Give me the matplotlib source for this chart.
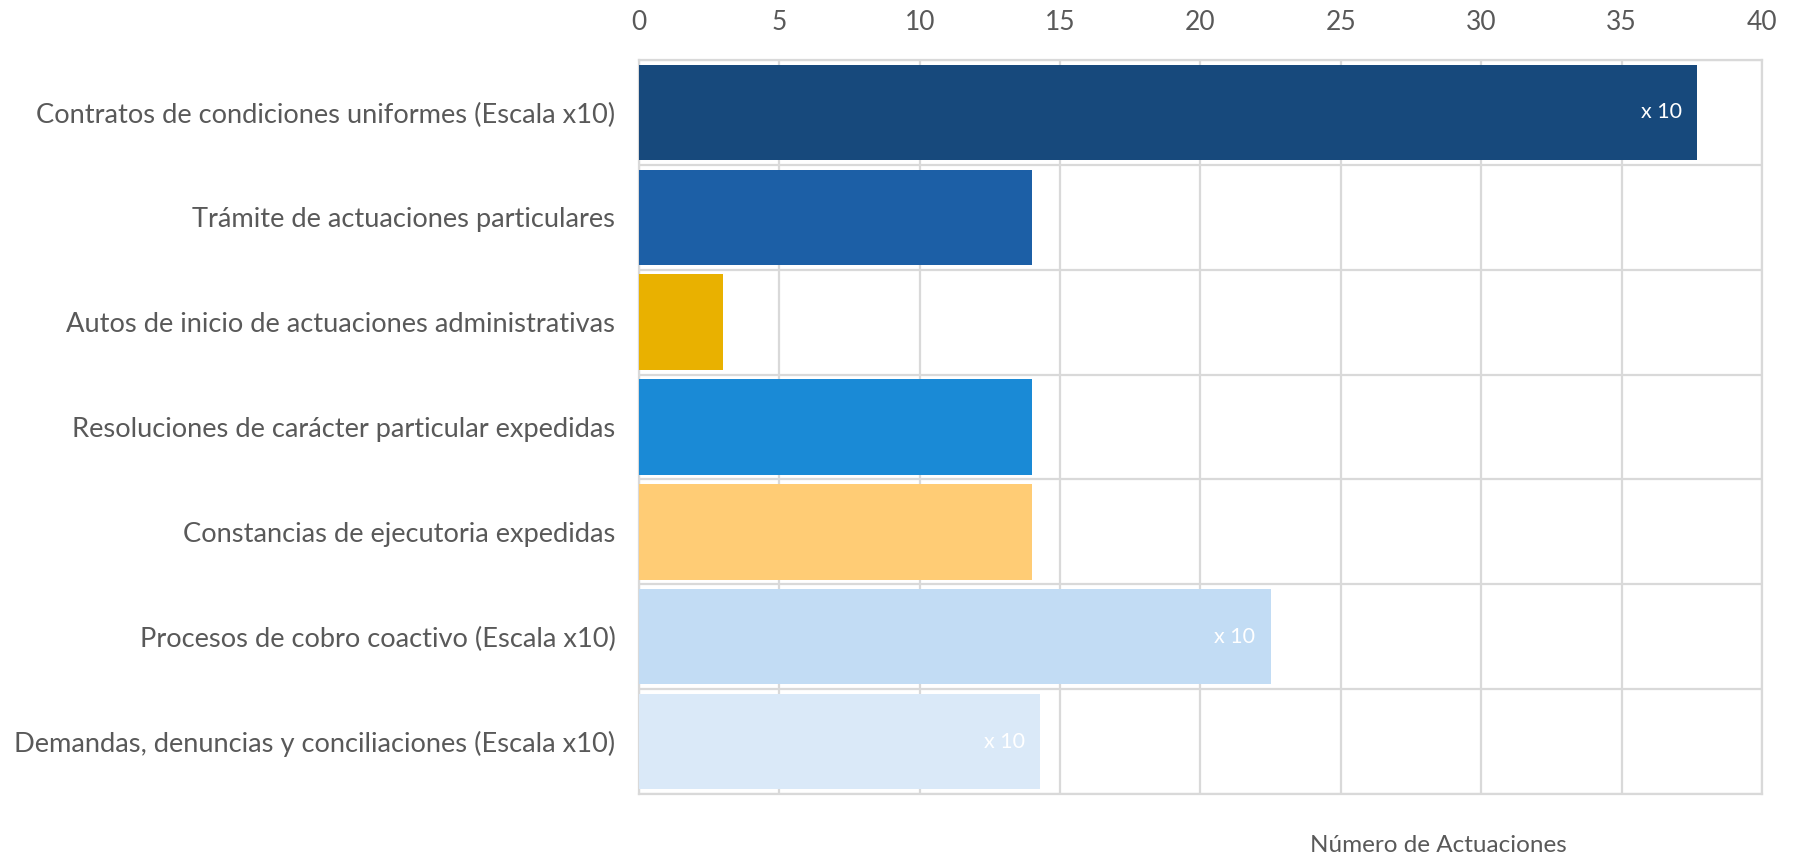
import matplotlib.pyplot as plt
import numpy as np

# Datos
categorias = ['Contratos de condiciones uniformes (Escala x10)',
              'Trámite de actuaciones particulares',
              'Autos de inicio de actuaciones administrativas',
              'Resoluciones de carácter particular expedidas',
              'Constancias de ejecutoria expedidas',
              'Procesos de cobro coactivo (Escala x10)',
              'Demandas, denuncias y conciliaciones (Escala x10)']
valores = [37.7, 14, 3, 14, 14, 22.5, 14.3]
etiquetas = ['x 10', '', '', '', '', 'x 10', 'x 10']
colores = ['#17497c', '#1c5fa6', '#e9b100', '#1a8ad6', '#ffcc75', '#c2dcf4', '#dae9f8']
xticks = [0, 5, 10, 15, 20, 25, 30, 35, 40]

plt.rcParams['font.family'] = ['Lato', 'DejaVu Sans']

fig = plt.figure(figsize=(17.96, 8.58), dpi=100)
ax = fig.add_axes([0.3558, 0.0746, 0.6252, 0.8554])

y = np.arange(len(categorias))
ax.barh(y, valores, height=0.91, color=colores, zorder=3)

for yi, v, lab in zip(y, valores, etiquetas):
    if lab:
        ax.text(v - 0.55, yi, lab, ha='right', va='center', color='white', fontsize=15.5, zorder=4)

ax.set_xlim(0, 40)
ax.set_ylim(len(categorias) - 0.5, -0.5)
ax.set_xticks(xticks)
ax.set_yticks(y)
ax.set_yticklabels(categorias)
ax.set_yticks(np.arange(len(categorias) + 1) - 0.5, minor=True)

ax.xaxis.tick_top()
ax.tick_params(axis='x', length=0, pad=18, labelsize=19, labelcolor='#595959')
ax.tick_params(axis='y', which='both', length=0, pad=17, labelsize=19.6, labelcolor='#595959')

ax.grid(True, axis='x', color='#d9d9d9', lw=1.6, zorder=0)
ax.grid(True, axis='y', which='minor', color='#d9d9d9', lw=1.6, zorder=0)
ax.grid(False, axis='y', which='major')
for s in ax.spines.values():
    s.set_color('#d9d9d9')
    s.set_linewidth(1.6)

fig.text(0.801, 0.015, 'Número de Actuaciones', ha='center', va='center', fontsize=17.5, color='#595959')

plt.savefig('out.png', dpi=100)
